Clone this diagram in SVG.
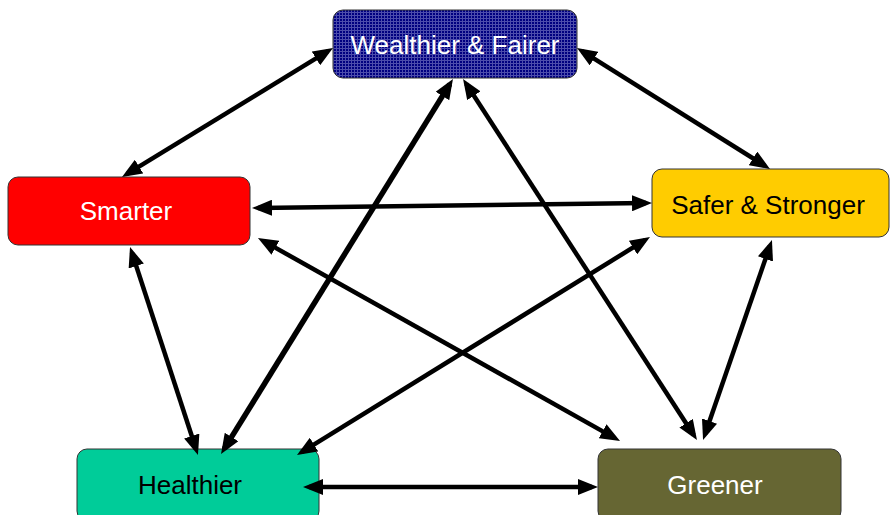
<svg xmlns="http://www.w3.org/2000/svg" width="890" height="515" viewBox="0 0 890 515">
<defs>
<pattern id="grid" width="3" height="3" patternUnits="userSpaceOnUse">
<rect width="3" height="3" fill="#000080"/>
<path d="M0,0.5 H3 M0.5,0 V3" stroke="#8c8cd0" stroke-width="1" opacity="0.55"/>
</pattern>
<marker id="ah" markerUnits="userSpaceOnUse" viewBox="0 0 20 16" markerWidth="20" markerHeight="16" refX="14" refY="8" orient="auto-start-reverse">
<path d="M0,0 L20,8 L0,16 Z" fill="#000"/>
</marker>
<style>
.box{stroke:#333;stroke-width:1}
.lbl{font-family:"Liberation Sans",Arial,sans-serif;font-size:26px;text-anchor:middle}
.w{fill:#fff}
.k{fill:#000}
.c{stroke:#000;stroke-width:4.5;fill:none;marker-start:url(#ah);marker-end:url(#ah)}
</style>
</defs>
<rect width="890" height="515" fill="#fff"/>
<g id="wealthier">
<rect class="box" x="333" y="10" width="244" height="68" rx="10" fill="url(#grid)"/>
<text class="lbl w" x="455" y="54">Wealthier &amp; Fairer</text>
</g>
<g id="smarter">
<rect class="box" x="8" y="177" width="242" height="68" rx="10" fill="#ff0000"/>
<text class="lbl w" x="126" y="220">Smarter</text>
</g>
<g id="safer">
<rect class="box" x="652" y="169" width="237" height="68" rx="10" fill="#ffcc00"/>
<text class="lbl k" x="768" y="214">Safer &amp; Stronger</text>
</g>
<g id="healthier">
<rect class="box" x="77" y="449" width="242" height="72" rx="10" fill="#00cc99"/>
<text class="lbl k" x="190" y="494">Healthier</text>
</g>
<g id="greener">
<rect class="box" x="598" y="449" width="243" height="72" rx="10" fill="#666633"/>
<text class="lbl w" x="715" y="494">Greener</text>
</g>
<g id="connectors">
<line class="c" x1="327.9" y1="51.1" x2="127.1" y2="173.9"/>
<line class="c" x1="582.1" y1="51.2" x2="764.9" y2="165.8"/>
<line class="c" x1="258" y1="207.9" x2="646" y2="203.1"/>
<line class="c" x1="131.9" y1="252.7" x2="196.1" y2="449.3"/>
<line class="c" x1="263.2" y1="240.9" x2="614.8" y2="438.1"/>
<line class="c" x1="449.8" y1="84.1" x2="224.2" y2="448.9" style="stroke-width:5.5"/>
<line class="c" x1="466.3" y1="84" x2="693.7" y2="435"/>
<line class="c" x1="644.9" y1="240.2" x2="302.1" y2="451.9"/>
<line class="c" x1="770" y1="245.7" x2="705" y2="434.3"/>
<line class="c" x1="309" y1="487" x2="592" y2="487"/>
</g>
</svg>
